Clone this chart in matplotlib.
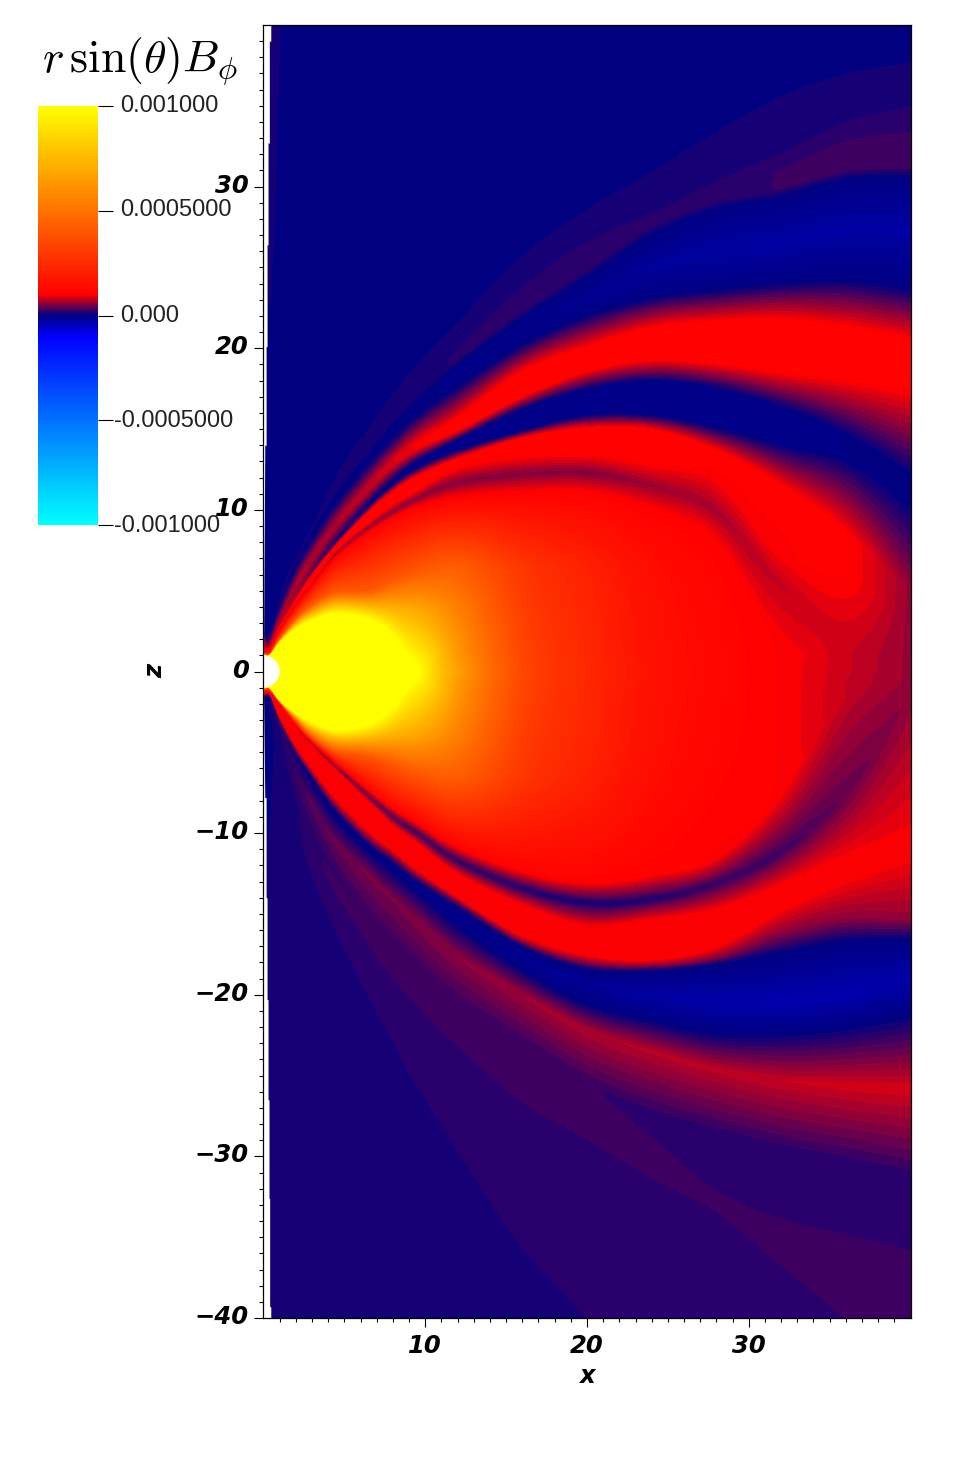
import matplotlib
matplotlib.use('Agg')
import matplotlib.pyplot as plt
import numpy as np
from matplotlib.cm import ScalarMappable
from matplotlib.colors import LinearSegmentedColormap, Normalize
from matplotlib.patches import Circle
from matplotlib.transforms import ScaledTranslation

plt.rcParams['mathtext.fontset'] = 'cm'

# field, units of 1e-6, one row per band edge, one column per x station
x_stations = [0.4, 1, 2, 3, 4.5, 6.5, 8, 9.5, 12, 16, 20, 24, 28, 32, 36, 40]

upper_z = [
    [0, 0, 0, 0, 0, 0, 0, 0, 0, 0, 0, 0, 0, 0, 0, 0],
    [1, 1.75, 2.6, 3.1, 3.55, 3.2, 2.2, 0.25, 2, 3, 3, 3, 3, 0.5, 0.4, 0.3],
    [1.02, 1.85, 2.9, 3.6, 4.2, 4.1, 4, 3.7, 4, 4.5, 4.7, 4.7, 4.2, 0.7, 0.6, 0.4],
    [1.05, 1.95, 3.2, 4.1, 4.9, 5, 5.6, 6.2, 6.5, 6.5, 6.5, 6.5, 6, 1, 0.8, 0.5],
    [1.22, 2.4, 3.95, 5.2, 7, 8.5, 9.4, 10.1, 10.7, 11, 11, 9.9, 7.8, 1.5, 1.2, 0.8],
    [1.3, 2.5, 4.1, 5.4, 7.3, 8.9, 9.9, 10.7, 11.7, 12.2, 12.3, 11.5, 9.9, 5.4, 2.4, 1.8],
    [1.38, 2.6, 4.25, 5.6, 7.6, 9.3, 10.4, 11.3, 12.7, 13.4, 13.5, 13, 12, 7.4, 6, 2.8],
    [1.44, 2.75, 4.45, 5.9, 7.75, 9.8, 11.05, 12, 13.1, 14.4, 15, 14.9, 13.6, 11.4, 8.5, 5],
    [1.48, 2.86, 4.54, 6.12, 8, 10.2, 11.55, 12.6, 13.7, 14.9, 15.9, 15.9, 15.2, 14.2, 13.2, 10.4],
    [1.52, 2.94, 4.66, 6.28, 8.2, 10.4, 11.85, 13, 14.3, 16.2, 17.4, 17.9, 17.4, 16.2, 14.6, 12.2],
    [1.68, 3.27, 5.25, 6.93, 9, 11.25, 12.75, 13.8, 15, 17.1, 18.7, 19.4, 19.2, 18.7, 18.3, 17.8],
    [1.72, 3.33, 5.35, 7.07, 9.2, 11.55, 13.05, 14.2, 15.5, 18.4, 19.9, 21.1, 21.5, 21.6, 21.1, 20.3],
    [2.3, 4, 6.4, 8.1, 10.4, 12.8, 14.4, 15.8, 17.6, 20.2, 22, 23.1, 23.6, 24, 24.2, 23.7],
    [2.4, 4.1, 6.5, 8.3, 10.6, 13.1, 14.8, 16.3, 18.4, 21, 23, 25, 26, 26.5, 27.3, 27.3],
    [2.5, 4.2, 6.6, 8.5, 10.9, 13.4, 15.2, 16.8, 19, 21.9, 24.4, 27, 28.6, 29.4, 30.5, 30.6],
    [2.6, 4.4, 6.8, 8.7, 11.2, 13.8, 15.6, 17.2, 19.3, 22.3, 24.9, 27.5, 29.1, 29.9, 31, 31.2],
    [2.7, 4.5, 6.95, 8.8, 11.35, 14, 15.8, 17.5, 19.6, 23, 25.5, 27.8, 29.5, 30.9, 32.6, 33.1],
    [2.9, 4.7, 7.2, 9, 11.6, 14.3, 16.2, 18, 20.2, 23.6, 26.3, 28, 29.9, 31.6, 33.6, 34.6],
    [3.1, 5.1, 7.8, 9.7, 12.3, 15, 17.1, 18.9, 21.5, 25.6, 28.5, 30.8, 33.3, 35.5, 36.9, 37.6],
    [3.4, 5.4, 8.1, 10, 12.6, 15.3, 17.4, 19.2, 21.8, 25.9, 28.8, 31.1, 33.6, 35.8, 37.2, 37.9],
    [40.5, 40.5, 40.5, 40.5, 40.5, 40.5, 40.5, 40.5, 40.5, 40.5, 40.5, 40.5, 40.5, 40.5, 40.5, 40.5],
]
upper_v = [
    [2000, 2000, 2000, 2000, 2000, 2000, 1500, 1020, 660, 350, 240, 160, 120, 100, 80, 60],
    [1000, 1000, 1000, 1000, 1000, 1000, 1000, 1000, 610, 330, 230, 150, 118, 100, 80, 60],
    [700, 700, 700, 700, 700, 700, 700, 700, 540, 310, 225, 148, 116, 100, 80, 60],
    [400, 400, 400, 400, 400, 400, 400, 400, 420, 290, 210, 140, 112, 100, 80, 60],
    [110, 110, 110, 110, 110, 110, 110, 105, 105, 105, 105, 105, 105, 100, 80, 60],
    [110, 100, 85, 70, 60, 55, 50, 50, 50, 50, 50, 60, 65, 76, 82, 60],
    [105, 105, 105, 105, 105, 105, 105, 105, 105, 105, 105, 105, 100, 100, 102, 58],
    [105, 105, 105, 105, 105, 105, 105, 105, 105, 105, 105, 105, 105, 105, 102, 60],
    [80, 70, 55, 35, 15, 5, 2, -2, -5, -5, -5, -5, -5, -5, 0, 3],
    [80, 70, 55, 35, 15, 5, 2, -2, -5, -5, -5, -5, -5, -5, 0, 3],
    [60, 60, 70, 70, 70, 75, 85, 95, 108, 108, 108, 108, 108, 108, 108, 108],
    [60, 60, 70, 70, 70, 75, 85, 95, 108, 108, 108, 108, 108, 108, 108, 108],
    [3, 3, 3, 3, 3, 3, 3, 3, 2, 2, 2, 2, 2, 2, 2, 2],
    [2, 2, 2, 2, 2, 2, 2, 2, -3, -5, -12, -18, -23, -25, -25, -25],
    [2, 2, 2, 2, 2, 2, 2, 2, 2, 2, 2, 2, 2, 2, 2, 2],
    [5, 8, 8, 8, 10, 12, 12, 14, 16, 18, 18, 18, 18, 24, 26, 26],
    [5, 8, 8, 8, 10, 12, 12, 14, 16, 18, 18, 18, 18, 24, 25, 25],
    [5, 7, 7, 7, 9, 11, 11, 12, 15, 16, 16.5, 16.5, 16.5, 16.5, 16.5, 16.5],
    [5, 6, 6, 6, 7, 8, 8, 9, 9, 9, 9, 9, 9, 9, 9, 9],
    [3, 3, 3, 3, 3, 3, 3, 3, 3, 3, 3, 3, 3, 3, 3, 3],
    [12, 8, 3, 3, 3, 3, 3, 3, 3, 3, 3, 3, 3, 3, 3, 3],
]

# same thing below the equator, depth is -z
lower_d = [
    [0, 0, 0, 0, 0, 0, 0, 0, 0, 0, 0, 0, 0, 0, 0, 0],
    [1, 1.75, 2.55, 3.1, 3.6, 3.25, 2.2, 0.2, 2, 3, 3, 3, 3, 3, 0.5, 0.1],
    [1.02, 1.8, 2.75, 3.55, 4.2, 4.2, 4, 3.7, 4, 4.5, 4.7, 4.7, 4.6, 4.5, 0.75, 0.2],
    [1.05, 1.85, 2.95, 4.0, 4.9, 5.2, 5.7, 6.3, 6.5, 6.5, 6.5, 6.5, 6.5, 6.5, 1, 0.3],
    [1.25, 1.9, 3.25, 4.3, 5.6, 7.25, 8.4, 9.3, 10.8, 12.3, 13, 12.5, 11.5, 7.5, 1.5, 0.5],
    [1.3, 2, 3.4, 4.5, 5.9, 7.7, 9, 10, 11.7, 13.4, 14.3, 14.1, 13.1, 11.2, 7.6, 1.5],
    [1.35, 2.1, 3.55, 4.7, 6.2, 8.15, 9.6, 10.7, 12.6, 14.5, 15.8, 15.4, 14.8, 13.3, 11.7, 10.8],
    [1.4, 2.7, 4.5, 5.9, 7.8, 9.8, 11, 12.2, 13.9, 16.3, 17.5, 17.8, 17, 14.7, 12.8, 11.2],
    [1.44, 2.9, 4.8, 6.3, 8.3, 10.3, 11.4, 12.6, 14.2, 16.7, 18, 18.2, 17.7, 16.3, 15.3, 15.3],
    [1.47, 3.05, 5, 6.55, 8.7, 10.7, 11.85, 13, 14.6, 17, 18.4, 18.5, 18.1, 17.4, 16.7, 16.6],
    [1.5, 3.1, 5.1, 6.7, 8.9, 10.9, 12.1, 13.3, 15.2, 17.7, 19.3, 20, 20.4, 20.4, 20, 18.9],
    [1.53, 3.15, 5.2, 6.85, 9.05, 11.1, 12.35, 13.6, 15.7, 18.5, 20.6, 21.6, 22.4, 22.4, 22, 21.2],
    [1.7, 3.5, 6.3, 8.2, 10.6, 12.6, 14, 15.4, 17.6, 20, 22.2, 23.5, 24.6, 25.3, 25.6, 25.8],
    [2, 5, 8, 10, 12.5, 15.2, 17, 18.3, 20.5, 23, 25.4, 27.3, 28.6, 29.6, 30.4, 31.3],
    [2.2, 5.2, 8.2, 10.2, 12.7, 15.4, 17.2, 18.5, 20.7, 23.2, 25.6, 28.8, 32.1, 33.8, 34.8, 35.8],
    [2.3, 5.3, 8.4, 10.4, 12.9, 15.6, 17.4, 18.7, 20.9, 23.4, 25.8, 29, 32.3, 34, 35, 36],
    [2.4, 5.5, 8.7, 10.9, 13.6, 16.7, 18.8, 20.5, 23, 26.5, 28.8, 31.2, 33.3, 36.6, 40, 45],
    [2.6, 5.7, 9, 11.2, 13.9, 17, 19.1, 20.8, 23.3, 26.8, 29.1, 31.5, 33.6, 36.9, 40.3, 45.3],
    [3, 6.2, 9.5, 12.5, 16, 20, 22.8, 25.5, 29.5, 35.5, 40, 46, 52, 58, 64, 70],
    [3.3, 6.5, 9.8, 12.8, 16.3, 20.3, 23.1, 25.8, 29.8, 35.8, 40.3, 46.3, 52.3, 58.3, 64.3, 70.3],
    [41, 41, 41, 41, 41, 41, 41, 41, 41, 41, 45, 50, 55, 60, 65, 72],
]
lower_v = [
    [2000, 2000, 2000, 2000, 2000, 2000, 1500, 1020, 660, 350, 240, 160, 120, 100, 80, 60],
    [1000, 1000, 1000, 1000, 1000, 1000, 1000, 1000, 610, 330, 230, 150, 118, 100, 78, 60],
    [700, 700, 700, 700, 700, 700, 700, 700, 540, 310, 225, 148, 116, 100, 78, 60],
    [400, 400, 400, 400, 400, 400, 400, 400, 420, 290, 210, 140, 112, 100, 78, 60],
    [110, 110, 110, 110, 110, 105, 105, 105, 105, 105, 105, 105, 100, 100, 78, 60],
    [90, 80, 65, 50, 40, 32, 25, 20, 15, 10, 8, 12, 20, 25, 40, 56],
    [100, 100, 100, 100, 100, 100, 100, 100, 100, 100, 100, 100, 100, 100, 100, 100],
    [100, 100, 100, 100, 100, 100, 100, 100, 100, 100, 100, 100, 100, 100, 100, 100],
    [60, 60, 55, 50, 50, 50, 50, 50, 50, 50, 50, 50, 50, 50, 55, 58],
    [25, 20, 10, 5, 2, 2, 2, 2, 2, 2, 2, 2, 2, 2, 2, 2],
    [25, 20, 10, 5, 2, 1, 0, -2, -5, -10, -15, -25, -30, -33, -33, -30],
    [25, 20, 10, 5, 2, 2, 2, 2, 2, 2, 2, 2, 2, 2, 2, 2],
    [8, 15, 25, 35, 42, 48, 48, 52, 55, 62, 68, 72, 74, 78, 82, 84],
    [6, 8, 14, 18, 22, 24, 24, 24, 24, 24, 24, 20, 18, 18, 18, 18],
    [6, 8, 14, 18, 22, 24, 24, 24, 24, 24, 24, 22, 22, 22, 22, 22],
    [8, 12, 15, 20, 26, 26, 26, 26, 26, 26, 26, 26, 26, 26, 26, 26],
    [8, 12, 15, 20, 26, 26, 26, 26, 26, 26, 26, 26, 26, 26, 26, 26],
    [7, 10, 14, 18, 20, 20, 20, 20, 20, 20, 20, 20, 20, 20, 20, 20],
    [7, 9, 14, 16, 17, 17, 17, 17, 17, 17, 17, 17, 17, 17, 17, 17],
    [7, 9, 12, 12, 12, 12, 12, 12, 12, 12, 12, 12, 12, 12, 12, 12],
    [12, 12, 12, 12, 12, 12, 12, 12, 12, 12, 12, 12, 12, 12, 12, 12],
]

# white strip left of the grid, the polar mesh does not quite reach the axis
gap_z = [40, 39, 39, 32.7, 32.7, 26.4, 26.4, 20.1, 20.1, 14, 14, 1.2, -1.2, -7.8, -7.8, -14, -14, -20.3, -20.3, -26.5, -26.5, -32.6, -32.6, -39.3, -39.3, -40]
gap_x = [0.45, 0.45, 0.36, 0.36, 0.28, 0.28, 0.22, 0.22, 0.16, 0.16, 0.08, 0, 0, 0.08, 0.16, 0.16, 0.22, 0.22, 0.28, 0.28, 0.34, 0.34, 0.38, 0.38, 0.45, 0.45]

bar_ticks = [-1000, -500, 0, 500, 1000]
bar_labels = ['-0.001000', '-0.0005000', '0.000', '0.0005000', '0.001000']
bar_label_px = [(114, 526), (114, 421), (120, 316), (120, 210), (120, 106)]
x_major = [10, 20, 30]
z_major = [-40, -30, -20, -10, 0, 10, 20, 30]

W, H = 970, 1460


def spline_columns(a, n=8):
    # catmull-rom along the columns, so bands do not show the stations as kinks
    a = np.asarray(a, dtype=float)
    p = np.vstack([2 * a[:, 0] - a[:, 1], a.T, 2 * a[:, -1] - a[:, -2]]).T
    out = []
    for i in range(1, p.shape[1] - 2):
        for t in np.arange(n) / n:
            out.append(0.5 * (2 * p[:, i] + (p[:, i + 1] - p[:, i - 1]) * t
                              + (2 * p[:, i - 1] - 5 * p[:, i] + 4 * p[:, i + 1] - p[:, i + 2]) * t ** 2
                              + (3 * p[:, i] - p[:, i - 1] - 3 * p[:, i + 1] + p[:, i + 2]) * t ** 3))
    out.append(a[:, -1])
    return np.array(out).T


def mesh(z_rows, v_rows, sign):
    # column at x=0 copies the first station so the field reaches the axis
    xs = np.array([0.0] + list(x_stations))
    z = np.column_stack([np.array(z_rows)[:, 0], np.array(z_rows)])
    v = np.column_stack([np.array(v_rows)[:, 0], np.array(v_rows)])
    xx = spline_columns(np.tile(xs, (z.shape[0], 1)))
    return xx, sign * spline_columns(z), spline_columns(v)


cmap = LinearSegmentedColormap.from_list('hotcold', [
    (0.0, (0, 1, 1)),
    (0.45, (0, 0, 1)),
    (0.502, (0, 0, 0.5)),
    (0.55, (1, 0, 0)),
    (1.0, (1, 1, 0)),
], N=256)
cmap.set_under((0, 1, 1))
cmap.set_over((1, 1, 0))
levels = np.linspace(-1000, 1000, 257)
norm = Normalize(-1000, 1000)

fig = plt.figure(figsize=(W / 100, H / 100), dpi=100)
ax = fig.add_axes([263.5 / W, 1 - 1318 / H, 647 / W, 1293 / H])

for rows_z, rows_v, sign in [(upper_z, upper_v, 1), (lower_d, lower_v, -1)]:
    xx, zz, vv = mesh(rows_z, rows_v, sign)
    ax.contourf(xx, zz, vv, levels=levels, cmap=cmap, norm=norm, extend='both')

ax.fill_betweenx(gap_z, 0, gap_x, color='white', lw=0, zorder=3)
ax.add_patch(Circle((0, 0), 1, color='white', lw=0, zorder=3))

ax.set_xlim(0, 40)
ax.set_ylim(-40, 40)
ax.set_xticks(x_major)
ax.set_yticks(z_major)
ax.set_xticks([i for i in range(1, 40) if i % 10], minor=True)
ax.set_yticks([i for i in range(-39, 40) if i % 10], minor=True)
ax.tick_params(axis='x', which='major', length=6.5, width=0.8, pad=5)
ax.tick_params(axis='y', which='major', length=6.5, width=0.8, pad=4)
ax.tick_params(which='minor', length=3.2, width=0.8)
for s in ax.spines.values():
    s.set_linewidth(0.9)
    s.set_zorder(5)

tick_font = dict(family='DejaVu Sans', weight='bold', style='italic', fontsize=17.5)
ax.set_xticklabels([str(i) for i in x_major], **tick_font)
ax.set_yticklabels([str(i).replace('-', '\u2212') for i in z_major], **tick_font)
lift = ScaledTranslation(0, 2.5 / 72, fig.dpi_scale_trans)
for lab in ax.get_yticklabels():
    lab.set_transform(lab.get_transform() + lift)
fig.text(588 / W, 1 - 1376 / H, 'x', ha='center', va='center', **tick_font)
fig.text(155 / W, 1 - 671 / H, 'z', ha='center', va='center', rotation=90, **tick_font)

# colour bar
cax = fig.add_axes([38 / W, 1 - 525 / H, 60 / W, 419 / H])
cb = fig.colorbar(ScalarMappable(norm=norm, cmap=cmap), cax=cax, ticks=bar_ticks)
cb.outline.set_visible(False)
cb.ax.tick_params(length=10.8, width=0.8, labelright=False)
for label, (px, py) in zip(bar_labels, bar_label_px):
    fig.text(px / W, 1 - py / H, label, ha='left', va='center', family='Liberation Sans',
             fontsize=17, color='#222222')

fig.text(140 / W, 1 - 61 / H, r'$r\,\sin(\theta)B_\phi$', ha='center', va='center', fontsize=33)

fig.savefig('out.png', dpi=100)
